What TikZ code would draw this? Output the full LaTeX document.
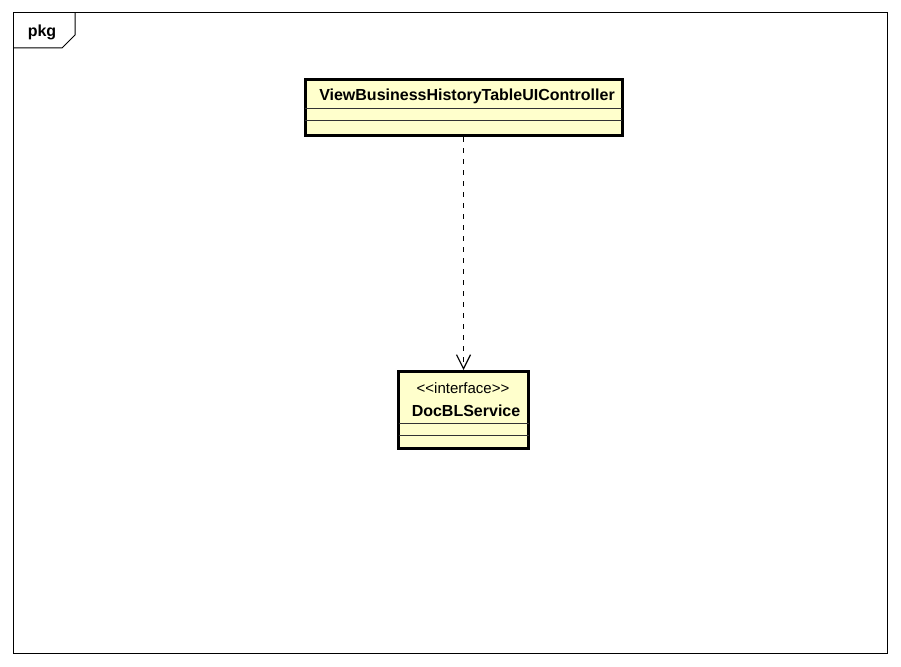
\documentclass[tikz,border=0pt]{standalone}
\usepackage{fontspec}
\setmainfont{Liberation Sans}
\usepackage{xcolor}
\usepackage{tikz}
\usetikzlibrary{arrows.meta}
\usetikzlibrary{positioning}

\definecolor{classfill}{RGB}{255,255,204}
\newcommand{\stereo}[1]{<\kern0pt<#1>\kern0pt>}

\begin{document}
\begin{tikzpicture}[x=1pt,y=-1pt]
    \useasboundingbox (0,0) rectangle (901,666);
    \draw[line width=1pt] (13,13) rectangle (887,653);
    \draw[line width=1pt] (13,48) -- (62,48) -- (75,35) -- (75,13);
    \node (pkg) at (42,32) {\fontsize{16}{19}\selectfont\bfseries pkg};
    \begin{scope}[every node/.style={rectangle,draw,fill=classfill,line width=3pt,inner sep=0pt}]
      \node (ctrl)[minimum width=317pt,minimum height=56pt] at (463.5,107.5) {};
      \node (svc)[minimum width=130pt,minimum height=77pt] at (463.5,410) {};
    \end{scope}
    \begin{scope}[line width=1pt,black!80,shorten <=1.5pt,shorten >=1.5pt]
      \draw ([yshift=-30.5pt]ctrl.north west) -- ([yshift=-30.5pt]ctrl.north east);
      \draw ([yshift=-42pt]ctrl.north west) -- ([yshift=-42pt]ctrl.north east);
      \draw ([yshift=-53.5pt]svc.north west) -- ([yshift=-53.5pt]svc.north east);
      \draw ([yshift=-65.5pt]svc.north west) -- ([yshift=-65.5pt]svc.north east);
    \end{scope}
    \node (ctrlname) at (467,96) {\fontsize{16}{19}\selectfont\bfseries ViewBusinessHistoryTableUIController};
    \node (svcstereo) at (463,388) {\fontsize{15}{18}\selectfont \stereo{interface}};
    \node (svcname) at (466,411) {\fontsize{16}{19}\selectfont\bfseries DocBLService};
    \begin{scope}[every edge/.style={draw=black,line width=1pt,dash pattern=on 5pt off 6pt}]
      \path (ctrl) edge[-{Straight Barb[length=14pt,width=14pt,line width=1.2pt]}] (svc);
    \end{scope}
\end{tikzpicture}
\end{document}
